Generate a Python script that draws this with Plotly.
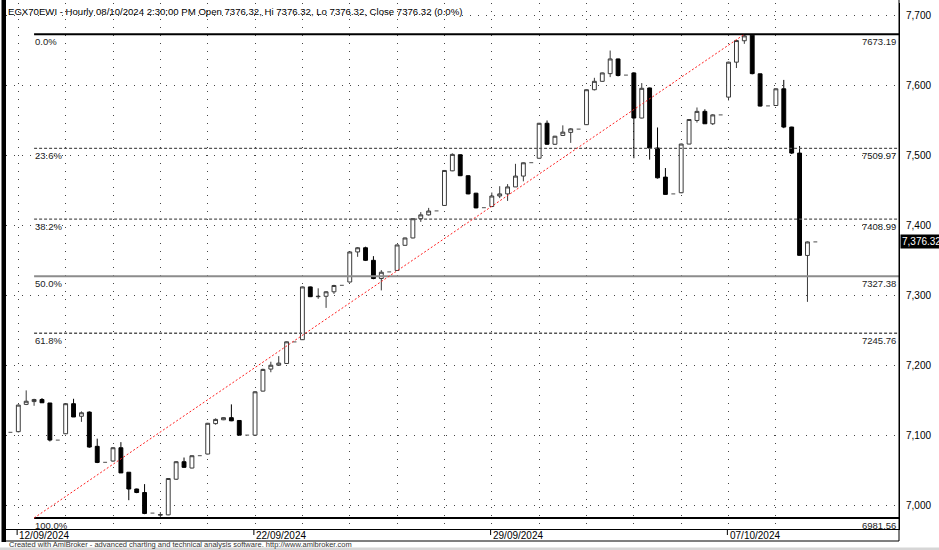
import plotly.graph_objects as go

# ---------------- data ----------------
trading_days = ["11/09/2024", "12/09/2024", "16/09/2024", "17/09/2024", "18/09/2024", "19/09/2024",
                "22/09/2024", "23/09/2024", "24/09/2024", "25/09/2024", "26/09/2024",
                "29/09/2024", "30/09/2024", "01/10/2024", "02/10/2024", "03/10/2024",
                "07/10/2024", "08/10/2024"]
bars_in_day = [1] + [6] * 17
labeled_days = ["12/09/2024", "22/09/2024", "29/09/2024", "07/10/2024"]

opens = [7104, 7105, 7144, 7148, 7151, 7146, 7093,
         7102, 7145, 7127, 7133, 7084, 7061,
         7063, 7082, 7047, 7023, 7018, 6988.5,
         6985.5, 6986, 7037, 7062, 7053, 7070.6,
         7073, 7116.5, 7122, 7125, 7121, 7100,
         7100, 7163, 7194.5, 7200, 7202.5, 7233.5,
         7236.5, 7312, 7298, 7298.6, 7305, 7314.3,
         7319, 7362, 7368, 7350, 7324, 7333.4,
         7335.5, 7371.5, 7382, 7409.6, 7415, 7420.6,
         7428.5, 7478, 7501, 7471, 7446, 7425.3,
         7427, 7442, 7445, 7455, 7470.5, 7489.6,
         7496, 7546, 7516, 7528.6, 7533, 7537.7,
         7544, 7594, 7606, 7617, 7638, 7615,
         7618, 7553.5, 7596.5, 7510.6, 7469, 7445,
         7446.7, 7516.3, 7550, 7563, 7545.3, 7558,
         7583.4, 7633.4, 7664, 7672, 7616.7, 7571,
         7571.4, 7595.3, 7540.6, 7503.4, 7357, 7376.32]
highs = [7104, 7144, 7164, 7152, 7153, 7146, 7093,
         7145.5, 7152, 7134, 7134, 7095, 7061,
         7083, 7090, 7047, 7023.5, 7030, 6988.5,
         6990, 7038.5, 7063, 7068, 7071, 7070.6,
         7117.5, 7124, 7125.5, 7144, 7121.5, 7100,
         7163, 7195, 7205, 7213, 7234, 7233.5,
         7312.5, 7312.5, 7310, 7306, 7315, 7314.3,
         7363, 7369, 7369.5, 7356, 7336, 7333.4,
         7372.5, 7382.5, 7410, 7419, 7425, 7420.6,
         7479, 7503, 7501.5, 7471.5, 7446.5, 7425.3,
         7447, 7456, 7459, 7488, 7490, 7489.6,
         7546.5, 7550, 7528, 7543, 7539, 7537.7,
         7594.5, 7611, 7618.5, 7650, 7638.5, 7615,
         7619, 7603.5, 7597, 7540, 7482, 7445,
         7517, 7552, 7568.6, 7566, 7559, 7558,
         7634, 7665, 7672, 7673.19, 7617, 7571,
         7596, 7608, 7541, 7513.4, 7377, 7376.32]
lows = [7104, 7104, 7143, 7142, 7146, 7091, 7093,
        7101.5, 7126, 7119, 7082, 7060, 7061,
        7062, 7046, 7007, 7017, 6987, 6988.5,
        6981.56, 6985.5, 7036, 7053, 7052.5, 7070.6,
        7072.5, 7115, 7121.5, 7120, 7100, 7100,
        7099.5, 7162.5, 7190, 7199, 7202, 7233.5,
        7236, 7297.5, 7295, 7282, 7302, 7314.3,
        7318.5, 7355, 7349, 7323, 7307, 7333.4,
        7335, 7371, 7381.5, 7405, 7414, 7420.6,
        7428, 7477.5, 7470.5, 7444.5, 7424.5, 7425.3,
        7426, 7439, 7435, 7455, 7463, 7489.6,
        7495.5, 7515, 7515, 7528, 7518, 7537.7,
        7543.5, 7593, 7605.5, 7612, 7613, 7615,
        7496, 7553, 7494, 7467, 7444, 7445,
        7446, 7516, 7547, 7545, 7543.5, 7558,
        7578.6, 7625, 7659.6, 7616, 7570, 7571,
        7571, 7539, 7502, 7357, 7290.6, 7376.32]
closes = [7104, 7143, 7148.5, 7151, 7146.3, 7093, 7093,
          7145, 7126, 7132, 7083, 7061, 7061,
          7082, 7046, 7023, 7018, 6988, 6988.5,
          6986.5, 7038, 7062, 7054, 7070.6, 7070.6,
          7117, 7122.5, 7125, 7120.5, 7100, 7100,
          7162, 7194, 7200, 7203, 7233.5, 7233.5,
          7312, 7298, 7298.5, 7305, 7314, 7314.3,
          7362, 7368, 7350, 7324, 7333, 7333.4,
          7372, 7382, 7409.5, 7415, 7420.5, 7420.6,
          7478.5, 7501.5, 7471, 7445, 7425, 7425.3,
          7442, 7445, 7455, 7470.5, 7489.5, 7489.6,
          7546, 7516, 7527.5, 7533.3, 7538, 7537.7,
          7594, 7606, 7618, 7638, 7614.3, 7615,
          7553.5, 7596, 7510.6, 7468, 7444.3, 7445,
          7516.3, 7551.4, 7563, 7545.3, 7558, 7558,
          7633.4, 7664.3, 7671, 7617, 7570.6, 7571,
          7595.3, 7540.6, 7503.4, 7357.1, 7376.32, 7376.32]

fib_low = 6981.56
fib_high = 7673.19
fib_start_bar = 3
fib_end_bar = 93
fib_labels = ["0.0%", "23.6%", "38.2%", "50.0%", "61.8%", "100.0%"]
fib_values = [7673.19, 7509.97, 7408.99, 7327.38, 7245.76, 6981.56]

price_ticks = [7000, 7100, 7200, 7300, 7400, 7500, 7600, 7700]
last_price = 7376.32
title_text = ("EGX70EWI - Hourly 08/10/2024 2:30:00 PM Open 7376.32, Hi 7376.32, "
              "Lo 7376.32, Close 7376.32 (0.0%)")
footer_text = ("Created with AmiBroker - advanced charting and technical analysis software. "
               "http://www.amibroker.com")

# ---------------- derived ----------------
idx = list(range(len(opens)))
day_start = []
pos = 0
for n in bars_in_day:
    day_start.append(pos)
    pos += n
grid_x = [s for s, n in zip(day_start, bars_in_day) if n == 6]
label_x = [day_start[trading_days.index(d)] for d in labeled_days]

flat = [o == h == l == c for o, h, l, c in zip(opens, highs, lows, closes)]
nx = [i for i in idx if not flat[i]]
fx = [i for i in idx if flat[i]]

FONT = "Liberation Sans, Arial, sans-serif"

fig = go.Figure()
fig.add_trace(go.Candlestick(
    x=nx,
    open=[opens[i] for i in nx], high=[highs[i] for i in nx],
    low=[lows[i] for i in nx], close=[closes[i] for i in nx],
    increasing=dict(line=dict(color="#3a3a3a", width=1), fillcolor="#ffffff"),
    decreasing=dict(line=dict(color="#000000", width=1), fillcolor="#000000"),
    whiskerwidth=0, showlegend=False, hoverinfo="skip"))
fig.add_trace(go.Candlestick(
    x=fx,
    open=[opens[i] for i in fx], high=[highs[i] for i in fx],
    low=[lows[i] for i in fx], close=[closes[i] for i in fx],
    increasing=dict(line=dict(color="#707070", width=1.3), fillcolor="#707070"),
    decreasing=dict(line=dict(color="#707070", width=1.3), fillcolor="#707070"),
    whiskerwidth=0, showlegend=False, hoverinfo="skip"))

W, H = 939, 550
L_M, R_M, T_M, B_M = 6, 40, 3, 21
plot_w = W - L_M - R_M
plot_h = H - T_M - B_M


def py(px):  # pixel y (from top) -> paper y
    return 1 - (px - T_M) / plot_h


def pxx(px):  # pixel x -> paper x
    return (px - L_M) / plot_w


shapes = []
annotations = []

fib_styles = {
    "0.0%": dict(color="#000000", width=2, dash="solid"),
    "23.6%": dict(color="#555555", width=1.3, dash="3px,2px"),
    "38.2%": dict(color="#555555", width=1.3, dash="3px,2px"),
    "50.0%": dict(color="#8c8c8c", width=2, dash="solid"),
    "61.8%": dict(color="#555555", width=1.3, dash="3px,2px"),
    "100.0%": dict(color="#000000", width=2, dash="solid"),
}
for lab, val in zip(fib_labels, fib_values):
    shapes.append(dict(type="line", xref="x", yref="y", x0=fib_start_bar, x1=112.6,
                       y0=val, y1=val, line=fib_styles[lab], layer="above"))
    annotations.append(dict(x=fib_start_bar, y=val, xref="x", yref="y", text=lab,
                            xanchor="left", yanchor="top", yshift=-1, showarrow=False,
                            borderpad=0,
                            font=dict(family=FONT, size=9.5, color="#222222")))
    annotations.append(dict(x=1, y=val, xref="paper", yref="y", text=f"{val:.2f}",
                            xanchor="right", yanchor="top", xshift=-2, yshift=-1,
                            showarrow=False, borderpad=0,
                            font=dict(family=FONT, size=9.5, color="#222222")))

shapes.append(dict(type="line", xref="x", yref="y", x0=fib_start_bar, y0=fib_low,
                   x1=fib_end_bar, y1=fib_high,
                   line=dict(color="#ff2020", width=1, dash="2px,2px"), layer="above"))

shapes.append(dict(type="rect", xref="paper", yref="paper", x0=pxx(1.5), x1=pxx(6),
                   y0=py(542), y1=py(0), fillcolor="#000000", line=dict(width=0)))
shapes.append(dict(type="line", xref="paper", yref="paper", x0=0, x1=1,
                   y0=py(541), y1=py(541), line=dict(color="#000000", width=1)))
shapes.append(dict(type="line", xref="paper", yref="paper", x0=1, x1=1,
                   y0=py(541), y1=py(0), line=dict(color="#000000", width=1)))
shapes.append(dict(type="rect", xref="paper", yref="paper", x0=pxx(0), x1=pxx(W),
                   y0=py(550), y1=py(547.5), fillcolor="#d6d6d6", line=dict(width=0)))

for d, xi in zip(labeled_days, label_x):
    shapes.append(dict(type="line", xref="x", yref="paper", x0=xi - 0.15, x1=xi - 0.15,
                       y0=py(529.5), y1=py(535), line=dict(color="#000000", width=1)))
    annotations.append(dict(x=xi, y=py(535.5), xref="x", yref="paper", text=d,
                            xanchor="left", yanchor="middle", showarrow=False, borderpad=0,
                            font=dict(family=FONT, size=10, color="#000000")))

annotations.append(dict(x=pxx(6), y=py(11), xref="paper", yref="paper", text=title_text,
                        xanchor="left", yanchor="middle", showarrow=False,
                        font=dict(family=FONT, size=9.6, color="#000000")))
annotations.append(dict(x=pxx(8), y=py(544.5), xref="paper", yref="paper", text=footer_text,
                        xanchor="left", yanchor="middle", showarrow=False, borderpad=0,
                        font=dict(family=FONT, size=7.5, color="#333333")))
annotations.append(dict(x=1, y=last_price, xref="paper", yref="y",
                        text=f"{last_price:,.2f}", xanchor="left", yanchor="middle",
                        xshift=1, showarrow=False, bgcolor="#000000", borderpad=1,
                        font=dict(family=FONT, size=10, color="#ffffff")))

fig.update_layout(
    width=W, height=H,
    margin=dict(l=L_M, r=R_M, t=T_M, b=B_M, pad=0),
    paper_bgcolor="#ffffff", plot_bgcolor="#ffffff",
    showlegend=False, hovermode=False,
    shapes=shapes, annotations=annotations,
    xaxis=dict(range=[-0.56, 112.6], rangeslider=dict(visible=False),
               tickvals=grid_x, showticklabels=False, ticks="",
               showgrid=True, gridcolor="#444444", gridwidth=1, griddash="1px,7px",
               zeroline=False, showline=True, linecolor="#000000", linewidth=1),
    yaxis=dict(range=[6965.8, 7718], side="right", tickvals=price_ticks,
               tickformat=",d", ticks="", ticklabelstandoff=4,
               tickfont=dict(family=FONT, size=10, color="#000000"),
               showgrid=True, gridcolor="#444444", gridwidth=1, griddash="1px,7px",
               zeroline=False, showline=True, linecolor="#000000", linewidth=1),
)

fig.write_html("out.html", config={"displayModeBar": False, "staticPlot": True},
               post_script="document.body.style.margin='0';document.body.style.overflow='hidden';")
